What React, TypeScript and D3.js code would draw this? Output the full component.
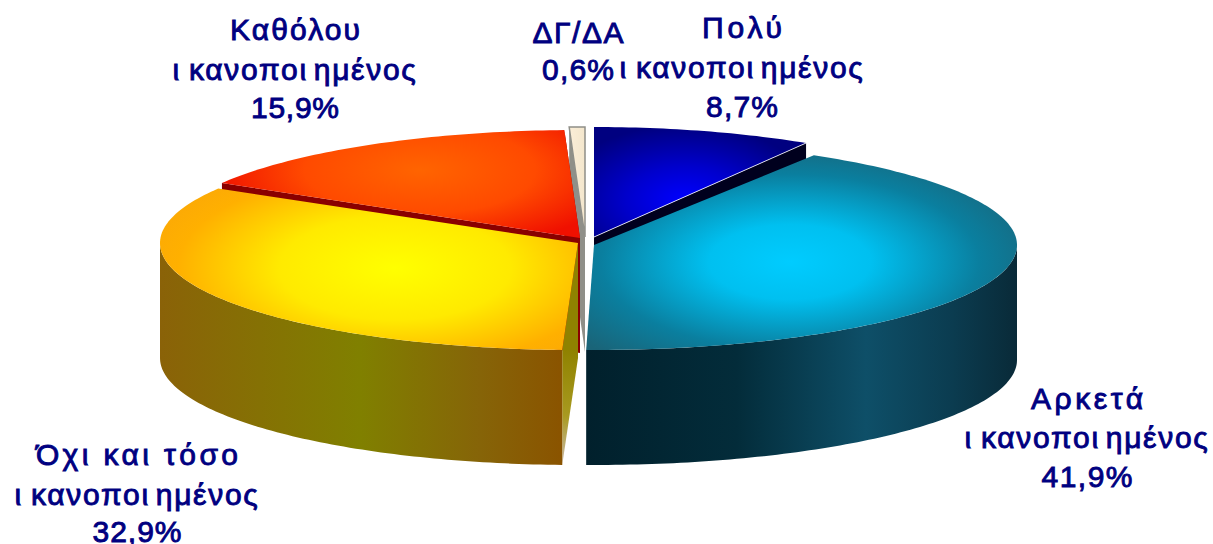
import React from "react";
import * as d3 from "d3";

const categories = ["Πολύ ικανοποιημένος", "Αρκετά ικανοποιημένος", "Όχι και τόσο ικανοποιημένος", "Καθόλου ικανοποιημένος", "ΔΓ/ΔΑ"];
const values = [8.7, 41.9, 32.9, 15.9, 0.6];

const DEPTH = 115;
const NAVY = "#000080";
const R = Math.PI / 180;

// geometry of each exploded slice (cx, cy, rx, ry), same order as values
const geometry = [
  { cx: 594, cy: 237, rx: 408, ry: 110, endShift: 0 },
  { cx: 594, cy: 245, rx: 423, ry: 105, endShift: -1.1 },
  { cx: 578, cy: 243, rx: 418, ry: 107, endShift: 0 },
  { cx: 580, cy: 238, rx: 416, ry: 108, endShift: 0 },
  { cx: 585, cy: 237, rx: 420, ry: 110, endShift: 0 },
];
const faceFill = ["#00001e", "#02222f", "url(#sliver)", "#8a0000", "#8f8f88"];
const topFill = ["url(#gBlue)", "url(#gCyan)", "url(#gYellow)", "url(#gRed)", "url(#gCream)"];

const WORD = "ικανοποιημένος";
const WORD_DX = "0 8 0 0 0 0 0 0 6";

const labels = [
  { x: 295, lines: [["Καθόλου", 40, 130], [WORD, 80, 248], ["15,9%", 118, 88]] },
  { x: 578, lines: [["ΔΓ/ΔΑ", 43, 91], ["0,6%", 80, 72]] },
  { x: 742, lines: [["Πολύ", 38, 80], [WORD, 78, 248], ["8,7%", 117, 72]] },
  { x: 1087, lines: [["Αρκετά", 409, 112], [WORD, 448, 248], ["41,9%", 487, 91]] },
  { x: 137, lines: [["Όχι και τόσο", 465, 202], [WORD, 505, 248], ["32,9%", 542, 89]] },
];

const pieGen = d3.pie<number>().sort(null).value((d) => d);
const arcs = pieGen(values);
const line = d3.line<[number, number]>();

type G = (typeof geometry)[number];
const pt = (g: G, a: number, dy = 0): [number, number] => [g.cx + g.rx * Math.sin(a), g.cy - g.ry * Math.cos(a) + dy];
const samples = (a0: number, a1: number) => {
  const n = Math.max(2, Math.ceil(Math.abs(a1 - a0) / (1 * R)));
  return d3.range(n + 1).map((i) => a0 + ((a1 - a0) * i) / n);
};
const topPath = (g: G, a0: number, a1: number) =>
  line([[g.cx, g.cy], ...samples(a0, a1).map((a) => pt(g, a))]) + "Z";
const wallPath = (g: G, a0: number, a1: number) => {
  const s = samples(a0, a1);
  return line([...s.map((a) => pt(g, a)), ...s.slice().reverse().map((a) => pt(g, a, DEPTH))]) + "Z";
};
const facePath = (g: G, a: number) =>
  line([[g.cx, g.cy], pt(g, a), pt(g, a, DEPTH), [g.cx, g.cy + DEPTH]]) + "Z";

const radial = (id: string, cx: number, cy: number, sx: number, sy: number, stops: [number, string][]) => (
  <radialGradient id={id} gradientUnits="userSpaceOnUse" cx={0} cy={0} r={1} gradientTransform={`translate(${cx} ${cy}) scale(${sx} ${sy})`}>
    {stops.map(([o, c]) => <stop key={o} offset={o} stopColor={c} />)}
  </radialGradient>
);
const linear = (id: string, x1: number, x2: number, stops: [number, string][]) => (
  <linearGradient id={id} gradientUnits="userSpaceOnUse" x1={x1} x2={x2} y1={0} y2={0}>
    {stops.map(([o, c]) => <stop key={o} offset={o} stopColor={c} />)}
  </linearGradient>
);

export default function App() {
  const angle = (i: number) => {
    const g = geometry[i];
    return { a0: arcs[i].startAngle, a1: arcs[i].endAngle + g.endShift * R };
  };
  const order = [0, 4, 3, 1, 2];
  return (
    <svg width={1213} height={544} viewBox="0 0 1213 544" style={{ position: "absolute", left: 0, top: 0, display: "block" }}>
      <defs>
        {radial("gCyan", 790, 262, 270, 125, [[0, "#00ccff"], [0.3, "#00c0f0"], [0.7, "#0a7f9f"], [1, "#1a6478"]])}
        {radial("gYellow", 395, 268, 290, 130, [[0, "#ffff00"], [0.4, "#ffea00"], [0.75, "#ffb000"], [1, "#f9a40a"]])}
        {radial("gRed", 420, 170, 210, 80, [[0, "#ff6400"], [0.55, "#ff4a00"], [1, "#f01000"]])}
        {radial("gBlue", 685, 200, 130, 75, [[0, "#0000ff"], [0.45, "#0000cc"], [1, "#000080"]])}
        {linear("gCream", 568, 586, [[0, "#fbeed8"], [1, "#f3e6cc"]])}
        {linear("wCyan", 586, 1017, [[0, "#01202c"], [0.35, "#032c3a"], [0.65, "#0e4f68"], [0.85, "#0b3c50"], [1, "#092a38"]])}
        {linear("wYellow", 160, 560, [[0, "#8a6208"], [0.5, "#808000"], [0.8, "#866408"], [1, "#8a5400"]])}
        <linearGradient id="sliver" gradientUnits="userSpaceOnUse" x1={0} x2={0} y1={350} y2={460}>
          <stop offset={0} stopColor="#8f8200" />
          <stop offset={0.6} stopColor="#a89a20" />
          <stop offset={1} stopColor="#c8b8a0" />
        </linearGradient>
      </defs>
      {order.map((i) => {
        const g = geometry[i];
        const { a0, a1 } = angle(i);
        const faceAngle = i === 0 ? a1 : a0;
        const wallFrom = Math.max(a0, 90 * R);
        const wallTo = Math.min(a1, 270 * R);
        return (
          <g key={categories[i]}>
            {i !== 1 && <path d={facePath(g, faceAngle)} fill={faceFill[i]} />}
            {i === 3 && <path d={facePath(g, a1)} fill={faceFill[i]} />}
            {wallTo > wallFrom && (
              <path d={wallPath(g, wallFrom, wallTo)} fill={i === 1 ? "url(#wCyan)" : "url(#wYellow)"} />
            )}
            <path d={topPath(g, a0, a1)} fill={topFill[i]} stroke={i === 4 ? "#8f8f88" : "none"} strokeWidth={i === 4 ? 1.5 : 0} />
            {i === 0 && <line x1={g.cx} y1={g.cy} x2={pt(g, a1)[0]} y2={pt(g, a1)[1]} stroke="#fff" strokeOpacity={0.8} strokeWidth={1} />}
          </g>
        );
      })}
      {labels.map((l) =>
        l.lines.map(([t, y, w]) => {
          const fit = t === WORD
            ? { dx: WORD_DX, letterSpacing: 1.7 }
            : { textLength: w as number, lengthAdjust: "spacing" };
          return (
            <text
              key={`${l.x}-${t}`}
              x={l.x}
              y={y as number}
              textAnchor="middle"
              fontFamily="'Liberation Sans', Arial, sans-serif"
              fontSize={30}
              fill={NAVY}
              stroke={NAVY}
              strokeWidth={0.9}
              {...fit}
            >
              {t}
            </text>
          );
        })
      )}
    </svg>
  );
}
